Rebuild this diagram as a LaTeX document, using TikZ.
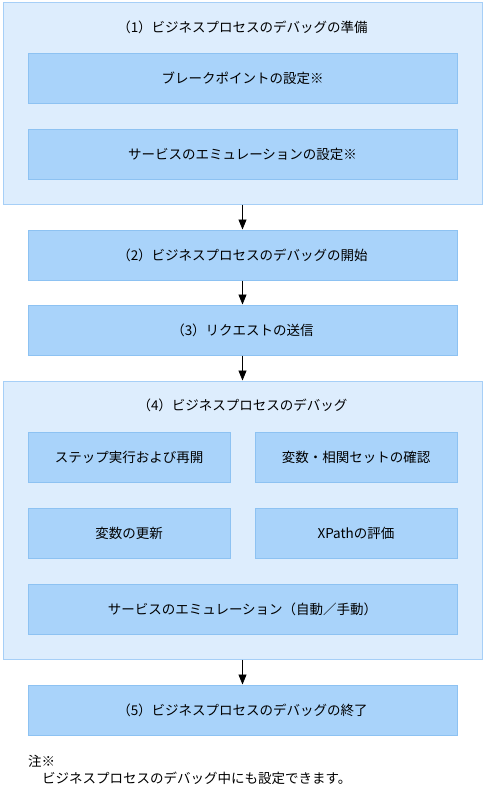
\documentclass[tikz,border=0pt]{standalone}
\usepackage{fontspec}
\setmainfont{Noto Sans CJK JP}
\usetikzlibrary{arrows.meta}

\definecolor{groupfill}{HTML}{DDEDFD}
\definecolor{groupline}{HTML}{A6CFF7}
\definecolor{stepfill}{HTML}{A9D3FA}
\definecolor{stepline}{HTML}{8DC2F2}

\begin{document}
\begin{tikzpicture}[x=1pt, y=-1pt,
  every node/.style={font=\fontsize{13.5}{16}\selectfont, inner sep=0pt},
  group/.style={draw=groupline, fill=groupfill, line width=1pt, minimum width=479pt},
  stepbox/.style={draw=stepline, fill=stepfill, line width=1pt, minimum height=50pt, minimum width=429pt},
  halfbox/.style={stepbox, minimum width=202pt},
  flow/.style={-{Triangle[length=10pt, width=8pt]}, line width=0.8pt, black}]
  \useasboundingbox (0, 0) rectangle (485, 792);

  % (1) Preparation
  \node[group, minimum height=201pt] (prep) at (242.5, 103.5) {};
  \node (preptitle) at (242.5, 27) {（1）ビジネスプロセスのデバッグの準備};
  \node[stepbox] (breakpt) at (242.5, 78.5) {ブレークポイントの設定※};
  \node[stepbox] (emuset) at (242.5, 154) {サービスのエミュレーションの設定※};

  % (2), (3)
  \node[stepbox] (start) at (242.5, 255) {（2）ビジネスプロセスのデバッグの開始};
  \node[stepbox] (send) at (242.5, 330) {（3）リクエストの送信};

  % (4) Debugging
  \node[group, minimum height=278pt] (debug) at (242.5, 520) {};
  \node (debugtitle) at (242.5, 405) {（4）ビジネスプロセスのデバッグ};
  \node[halfbox] (stepexec) at (129, 457) {ステップ実行および再開};
  \node[halfbox] (varcheck) at (356, 457) {変数・相関セットの確認};
  \node[halfbox] (varupd) at (129, 533) {変数の更新};
  \node[halfbox] (xpath) at (356, 533) {XPathの評価};
  \node[stepbox] (emurun) at (242.5, 609) {サービスのエミュレーション（自動／手動）};

  % (5) End
  \node[stepbox] (finish) at (242.5, 710) {（5）ビジネスプロセスのデバッグの終了};

  % Flow
  \draw[flow] (prep) -- (start);
  \draw[flow] (start) -- (send);
  \draw[flow] (send) -- (debug);
  \draw[flow] (debug) -- (finish);

  % Note
  \node[anchor=west] (notehead) at (28, 761) {注※};
  \node[anchor=west] (notebody) at (42, 778) {ビジネスプロセスのデバッグ中にも設定できます。};
\end{tikzpicture}
\end{document}
